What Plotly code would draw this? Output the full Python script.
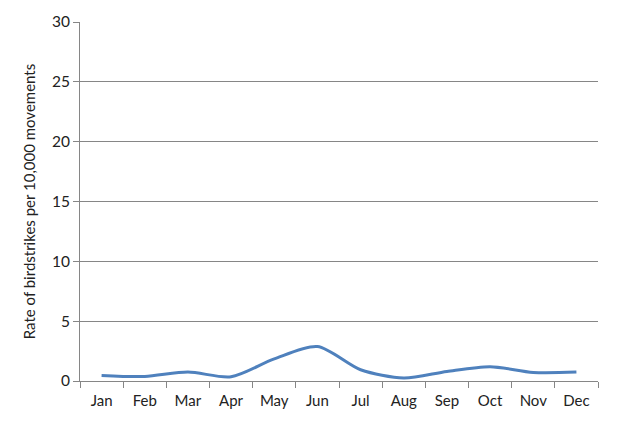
import plotly.graph_objects as go

months = ["Jan", "Feb", "Mar", "Apr", "May", "Jun", "Jul", "Aug", "Sep", "Oct", "Nov", "Dec"]
rates = [0.47, 0.38, 0.75, 0.36, 1.85, 2.88, 0.94, 0.25, 0.8, 1.2, 0.72, 0.75]
y_ticks = [0, 5, 10, 15, 20, 25, 30]

fig = go.Figure()
fig.add_trace(go.Scatter(
    x=months, y=rates, mode="lines",
    line=dict(color="#4F81BD", width=3, shape="spline", smoothing=0.8),
    showlegend=False, hoverinfo="skip",
))

fig.update_layout(
    width=619, height=431,
    margin=dict(l=80, r=21, t=20, b=50),
    paper_bgcolor="white", plot_bgcolor="white",
    font=dict(family="Lato, Liberation Sans, sans-serif", size=15, color="#222222"),
    xaxis=dict(
        type="category", tickson="boundaries", ticks="outside", ticklen=6,
        tickcolor="#868686", showline=True, linecolor="#868686", linewidth=1,
        showgrid=False, tickfont=dict(size=15), range=[-0.5, 11.5],
        ticklabelstandoff=6,
    ),
    yaxis=dict(
        range=[0, 30], tickvals=y_ticks, ticks="outside", ticklen=6,
        tickcolor="#868686", showline=True, linecolor="#868686", linewidth=1,
        showgrid=True, gridcolor="#868686", gridwidth=1, zeroline=False,
        tickfont=dict(size=15.5),
        title=dict(text="Rate of birdstrikes per 10,000 movements",
                   font=dict(size=15), standoff=12),
    ),
)

fig.write_html("out.html")
